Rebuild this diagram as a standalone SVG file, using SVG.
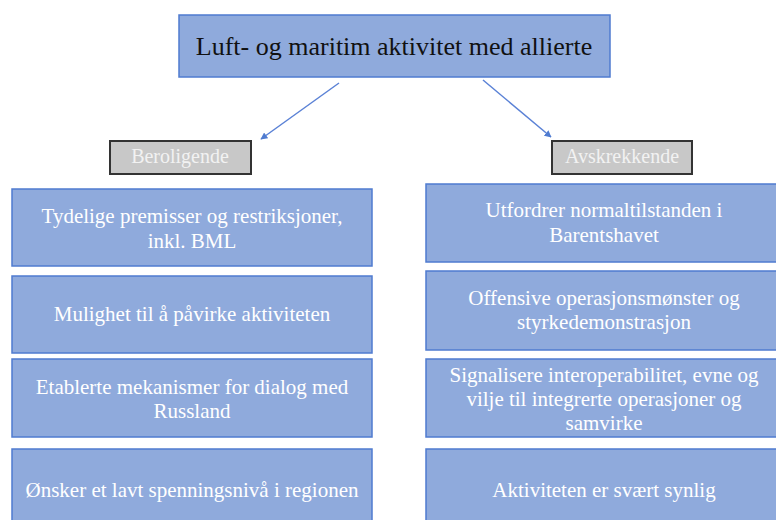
<svg xmlns="http://www.w3.org/2000/svg" width="776" height="520" viewBox="0 0 776 520">
<defs>
<style>
.box{fill:#8faadc;stroke:#4f7bd0;stroke-width:1.5}
.lbl{fill:#c8c8c8;stroke:#333;stroke-width:2}
text{font-family:'Liberation Serif','Times New Roman',Times,'DejaVu Serif',serif}
.t{font-size:21px;fill:#fff;text-anchor:middle}
.lt{font-size:20px;fill:#f2f2f2;text-anchor:middle}
.title{font-size:26px;fill:#111;text-anchor:middle}
.conn{stroke:#5b82d6;stroke-width:1.5;fill:none}
</style>
<marker id="ah" viewBox="0 0 10 10" refX="9" refY="5" markerWidth="7" markerHeight="7" orient="auto" markerUnits="userSpaceOnUse">
<path d="M0,0 L10,5 L0,10 z" fill="#4f7bd0"/>
</marker>
</defs>
<rect width="776" height="520" fill="#fff"/>
<g id="connectors">
<line class="conn" x1="339" y1="83" x2="261" y2="139" marker-end="url(#ah)"/>
<line class="conn" x1="483" y1="80" x2="551" y2="137" marker-end="url(#ah)"/>
</g>
<g id="top">
<rect class="box" x="179" y="15" width="431" height="62"/>
<text class="title" x="394" y="55" font-family="Liberation Serif, serif">Luft- og maritim aktivitet med allierte</text>
</g>
<g id="beroligende">
<rect class="lbl" x="110" y="141" width="141" height="33"/>
<text class="lt" x="180" y="163">Beroligende</text>
</g>
<g id="avskrekkende">
<rect class="lbl" x="552" y="141" width="140" height="33"/>
<text class="lt" x="622" y="163">Avskrekkende</text>
</g>
<g id="l1">
<rect class="box" x="12" y="189" width="360" height="77"/>
<text class="t" x="192" y="223">Tydelige premisser og restriksjoner,</text>
<text class="t" x="192" y="248">inkl. BML</text>
</g>
<g id="l2">
<rect class="box" x="12" y="276" width="360" height="77"/>
<text class="t" x="192" y="321">Mulighet til å påvirke aktiviteten</text>
</g>
<g id="l3">
<rect class="box" x="12" y="359" width="360" height="78"/>
<text class="t" x="192" y="394">Etablerte mekanismer for dialog med</text>
<text class="t" x="192" y="418">Russland</text>
</g>
<g id="l4">
<rect class="box" x="12" y="449" width="360" height="80"/>
<text class="t" x="192" y="497">Ønsker et lavt spenningsnivå i regionen</text>
</g>
<g id="r1">
<rect class="box" x="426" y="184" width="360" height="78"/>
<text class="t" x="604" y="217">Utfordrer normaltilstanden i</text>
<text class="t" x="604" y="242">Barentshavet</text>
</g>
<g id="r2">
<rect class="box" x="426" y="271" width="360" height="79"/>
<text class="t" x="604" y="305">Offensive operasjonsmønster og</text>
<text class="t" x="604" y="329">styrkedemonstrasjon</text>
</g>
<g id="r3">
<rect class="box" x="426" y="359" width="360" height="78"/>
<text class="t" x="604" y="382">Signalisere interoperabilitet, evne og</text>
<text class="t" x="604" y="406">vilje til integrerte operasjoner og</text>
<text class="t" x="604" y="430">samvirke</text>
</g>
<g id="r4">
<rect class="box" x="426" y="449" width="360" height="80"/>
<text class="t" x="604" y="497">Aktiviteten er svært synlig</text>
</g>
</svg>
